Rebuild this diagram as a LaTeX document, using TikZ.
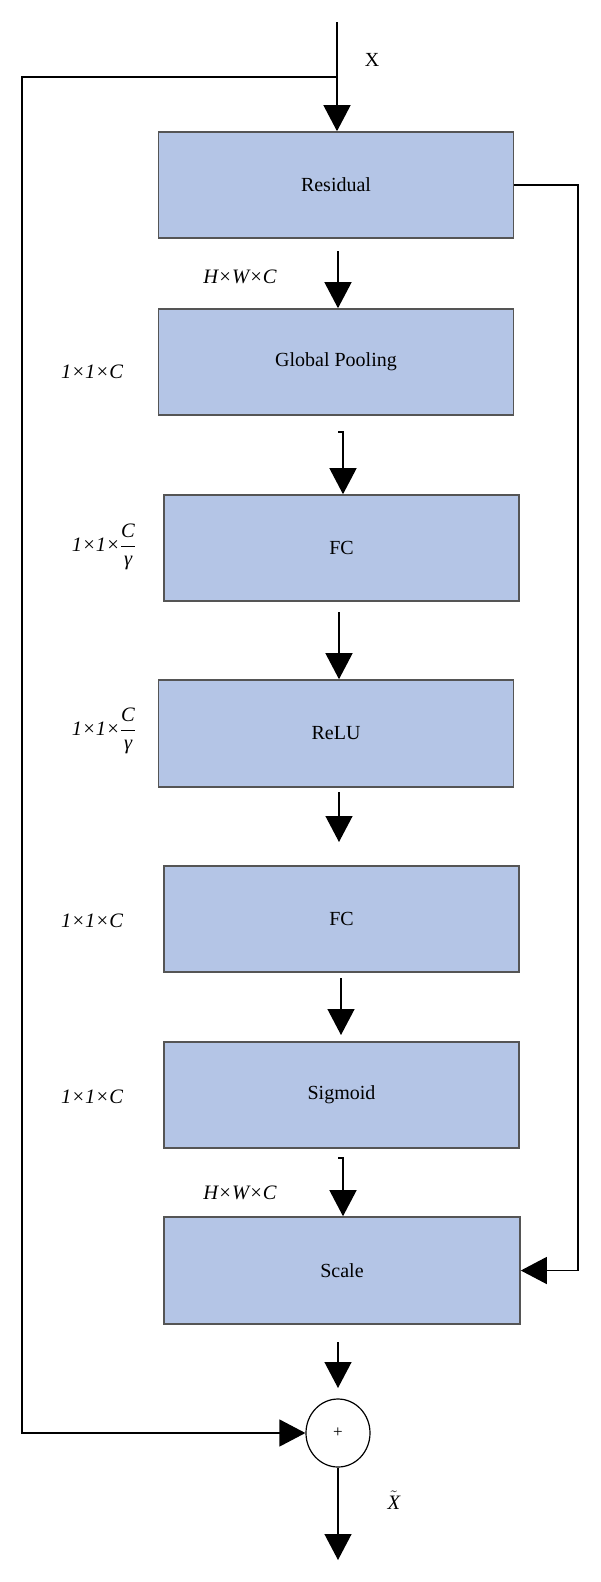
\documentclass[tikz,border=0pt]{standalone}
\usepackage{fontspec}
\setmainfont{Liberation Serif}
\usetikzlibrary{arrows.meta,shapes.geometric}
\definecolor{boxfill}{HTML}{B4C5E6}
\definecolor{boxline}{HTML}{555555}
\begin{document}
\begin{tikzpicture}[x=1pt,y=-1pt,
  blk/.style={draw=boxline, line width=1.6pt, fill=boxfill, minimum width=355pt, minimum height=106pt, inner sep=0pt, font=\fontsize{20}{22}\selectfont},
  arr/.style={draw=black, line width=1.3pt, -{Triangle[length=26pt,width=27pt]}},
  lbl/.style={font=\fontsize{20.5}{23}\selectfont\itshape, inner sep=0pt},
  sumnode/.style={draw=black, line width=1.2pt, ellipse, minimum width=64pt, minimum height=68pt, inner sep=0pt, font=\fontsize{17}{19}\selectfont}]
\useasboundingbox (0,0) rectangle (600,1582);
% boxes
\node[blk] (res)   at (336,185)   {Residual};
\node[blk] (gp)    at (336,362)   {Global Pooling};
\node[blk] (fc1)   at (341.5,548) {FC};
\node[blk, minimum height=107pt] (relu)  at (336,733.5) {ReLU};
\node[blk] (fc2)   at (341.5,919) {FC};
\node[blk] (sig)   at (341.5,1095) {Sigmoid};
\node[blk, minimum height=107pt, minimum width=356pt] (scale) at (342,1270.5) {Scale};
\node[sumnode] (plus) at (338,1433) {+};
% free ends
\coordinate (xin) at (337,22);
\coordinate (split) at (337,77);
\coordinate (lc) at (22,77);
\coordinate (rc) at (578,185);
\coordinate (a2) at (338,251);
\coordinate (a3t) at (338,432);
\coordinate (a3) at (343,432);
\coordinate (a4) at (339,612);
\coordinate (a5) at (339,792);
\coordinate (a5e) at (339,842);
\coordinate (a6) at (341,978);
\coordinate (a6e) at (341,1035);
\coordinate (a7t) at (338,1158);
\coordinate (a7) at (343,1158);
\coordinate (a8) at (338,1342);
\coordinate (a8e) at (338,1388);
\coordinate (out) at (338,1560);
% connectors
\draw[arr] (xin) -- (xin |- res.north);
\draw[arr] (split) -- (lc) -- (lc |- plus.west) -- (plus.west);
\draw[arr] (res.east) -- (rc) -- (rc |- scale.east) -- (scale.east);
\draw[arr] (a2) -- (a2 |- gp.north);
\draw[arr] (a3t) -- (a3) -- (a3 |- fc1.north);
\draw[arr] (a4) -- (a4 |- relu.north);
\draw[arr] (a5) -- (a5e);
\draw[arr] (a6) -- (a6e);
\draw[arr] (a7t) -- (a7) -- (a7 |- scale.north);
\draw[arr] (a8) -- (a8e);
\draw[arr] (plus.south) -- (plus.south |- out);
% labels
\node[font=\fontsize{20}{22}\selectfont, inner sep=0pt] (lx) at (372,60) {X};
\node[lbl] (l1) at (240,277) {H×W×C};
\node[lbl] (l2) at (92,372) {1×1×C};
\node[lbl] (l3) at (104,547) {1×1×$\displaystyle\frac{\mbox{C}}{\mbox{γ}}$};
\node[lbl] (l4) at (104,731) {1×1×$\displaystyle\frac{\mbox{C}}{\mbox{γ}}$};
\node[lbl] (l5) at (92,921) {1×1×C};
\node[lbl] (l6) at (92,1097) {1×1×C};
\node[lbl] (l7) at (240,1193) {H×W×C};
\node[lbl] (l8) at (394,1500) {$\tilde{\mbox{X}}$};
\end{tikzpicture}
\end{document}
